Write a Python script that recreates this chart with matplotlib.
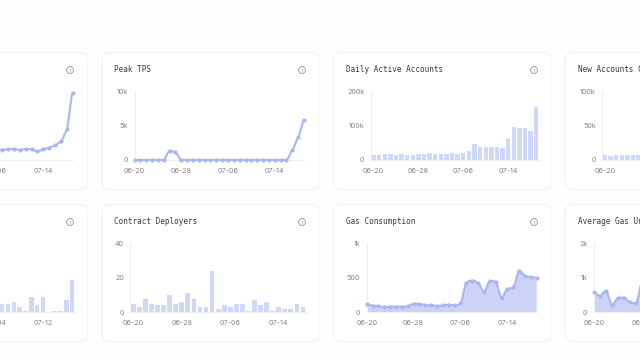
import matplotlib
matplotlib.use('Agg')
import matplotlib.pyplot as plt
from matplotlib.patches import FancyBboxPatch, PathPatch, Circle
from matplotlib.path import Path
import numpy as np

plt.rcParams['font.family'] = ['Inter', 'DejaVu Sans']

W, H = 640, 360
BAR_C = '#d1d7f8'
LINE_C = '#aab6ef'
AREA_C = '#cdd3f7'
AXIS_C = '#eeeef0'
TICK_C = '#858585'
TITLE_C = '#3a3a3a'

# data
# top row
tps_left_x = list(range(16, 30))
tps_left = [1500, 1450, 1590, 1590, 1450, 1590, 1590, 1250, 1550, 1790, 2130, 2700, 4440, 9760]
peak_tps = [0, 0, 0, 0, 0, 0, 1350, 1110, 0, 0, 0, 0, 0, 0, 0, 0, 0, 0, 0, 0, 0, 0, 0, 0, 0, 0, 0,
            1400, 3280, 5850]
active = [14500, 14500, 16400, 16400, 14500, 17400, 15500, 15500, 16400, 16400, 20300, 17400, 16400,
          16400, 19300, 18400, 21300, 26000, 46400, 36700, 37700, 37700, 37700, 34800, 61800, 95700,
          91800, 91800, 85000, 154600]
new_accounts = [7700, 6300, 6800, 7700, 6800, 6800, 7700]

# bottom row
left_bars_x = list(range(17, 30))
left_bars = [5, 5, 6, 3, 1, 9, 4, 9, 0, 1, 1, 7, 19]
deployers = [5, 3, 8, 5, 4, 4, 10, 5, 6, 11, 8, 3, 3, 24, 2, 4, 3, 5, 5, 1, 7, 4, 6, 1, 3, 2, 2, 5, 3]
gas = [116, 97, 92, 72, 82, 82, 82, 87, 125, 120, 106, 101, 92, 101, 111, 101, 130, 425, 459, 425,
       300, 454, 444, 213, 338, 362, 604, 527, 512, 498]
avg_gas = [580, 473, 628, 213, 415, 425, 290, 260, 900]

dates_a = ['06-20', '06-28', '07-06', '07-14']
dates_b = ['06-18', '06-26', '07-04', '07-12']
tick_idx = [0, 8, 16, 24]


def smooth_verts(x, y, k=0.55):
    x = np.asarray(x, float)
    y = np.asarray(y, float)
    m = np.gradient(y, x) * k
    verts = [(x[0], y[0])]
    for i in range(len(x) - 1):
        d = (x[i + 1] - x[i]) / 3
        lo, hi = min(y[i], y[i + 1]), max(y[i], y[i + 1])
        verts.append((x[i] + d, np.clip(y[i] + m[i] * d, lo, hi)))
        verts.append((x[i + 1] - d, np.clip(y[i + 1] - m[i + 1] * d, lo, hi)))
        verts.append((x[i + 1], y[i + 1]))
    return verts


def make_axes(left, top, width, height, ymax, ylabels, xlim, xlabels):
    ax = fig.add_axes([left / W, 1 - (top + height) / H, width / W, height / H])
    ax.patch.set_visible(False)
    ax.set_xlim(*xlim)
    ax.set_ylim(0, ymax)
    ax.spines['top'].set_visible(False)
    ax.spines['right'].set_visible(False)
    ax.spines['left'].set_color(AXIS_C)
    ax.spines['bottom'].set_color(AXIS_C)
    ax.spines['left'].set_linewidth(0.7)
    ax.spines['bottom'].set_linewidth(0.7)
    ax.set_yticks([0, ymax / 2, ymax])
    ax.set_yticklabels(ylabels)
    ax.set_xticks(tick_idx)
    ax.set_xticklabels(xlabels)
    ax.tick_params(axis='both', length=0, labelsize=5.2, labelcolor=TICK_C)
    ax.tick_params(axis='y', pad=4.6)
    ax.tick_params(axis='x', pad=5.8)
    return ax


def line_chart(ax, x, y, area=False):
    verts = smooth_verts(x, y)
    codes = [Path.MOVETO] + [Path.CURVE4] * (len(verts) - 1)
    if area:
        fill_v = verts + [(x[-1], 0), (x[0], 0), (x[0], 0)]
        fill_c = codes + [Path.LINETO, Path.LINETO, Path.CLOSEPOLY]
        ax.add_patch(PathPatch(Path(fill_v, fill_c), facecolor=AREA_C, edgecolor='none', zorder=2))
    ax.add_patch(PathPatch(Path(verts, codes), facecolor='none', edgecolor=LINE_C, lw=1.5,
                           zorder=3, clip_on=False))
    ax.plot(x, y, ls='none', marker='o', ms=3.0, color=LINE_C, mew=0, zorder=4, clip_on=False)


def bar_chart(ax, x, y):
    ax.bar(x, y, width=0.78, color=BAR_C, zorder=2)


fig = plt.figure(figsize=(W / 100, H / 100), dpi=100, facecolor='#fefefe')
bg = fig.add_axes([0, 0, 1, 1])
bg.set_xlim(0, W)
bg.set_ylim(H, 0)
bg.axis('off')

# cards
for x0, x1 in [(-140, 87.5), (102, 319), (333.5, 551), (565, 790)]:
    for y0, y1 in [(52.5, 189.5), (204.5, 341.5)]:
        bg.add_patch(FancyBboxPatch((x0 + 8, y0 + 8), x1 - x0 - 16, y1 - y0 - 16,
                                    boxstyle='round,pad=8,rounding_size=8', fc='white',
                                    ec='#f4f4f6', lw=0.9))

# titles
for x, y, t in [(114, 70, 'Peak TPS'), (345.5, 70, 'Daily Active Accounts'),
                (577.5, 70, 'New Accounts Created'), (114, 222, 'Contract Deployers'),
                (345.5, 222, 'Gas Consumption'), (577.5, 222, 'Average Gas Units')]:
    bg.text(x, y, t, fontsize=5.5, family='DejaVu Sans Mono', color=TITLE_C, va='center', ha='left')

# info icons
for x in [70, 302, 534]:
    for y in [70, 222]:
        bg.add_patch(Circle((x, y), 3.4, fc='white', ec='#8f8f8f', lw=0.6))
        bg.text(x, y, 'i', fontsize=4, color='#8f8f8f', ha='center', va='center')

# top row
ax = make_axes(-97, 91, 169.5, 69, 10000, ['0', '5k', '10k'], (0, 29), dates_a)
line_chart(ax, tps_left_x, tps_left)

ax = make_axes(134.5, 91, 169.5, 69, 10000, ['0', '5k', '10k'], (0, 29), dates_a)
line_chart(ax, list(range(len(peak_tps))), peak_tps)

ax = make_axes(370.7, 91, 168.3, 69, 200000, ['0', '100k', '200k'], (-0.5, 29.5), dates_a)
bar_chart(ax, list(range(len(active))), active)

ax = make_axes(602.2, 91, 168, 69, 100000, ['0', '50k', '100k'], (-0.5, 29.5), dates_a)
bar_chart(ax, list(range(len(new_accounts))), new_accounts)

# bottom row
ax = make_axes(-99.9, 243.3, 174.9, 69, 40, ['0', '20', '40'], (-0.5, 29.5), dates_b)
bar_chart(ax, left_bars_x, left_bars)

ax = make_axes(130.3, 243.3, 175.7, 69, 40, ['0', '20', '40'], (-0.5, 28.5), dates_a)
bar_chart(ax, list(range(len(deployers))), deployers)

ax = make_axes(366.7, 243.3, 170, 69, 1000, ['0', '500', '1k'], (0, 29), dates_a)
line_chart(ax, list(range(len(gas))), gas, area=True)

ax = make_axes(594, 243.3, 174, 69, 2000, ['0', '1k', '2k'], (0, 29), dates_a)
line_chart(ax, list(range(len(avg_gas))), avg_gas, area=True)

fig.savefig('out.png', dpi=100, facecolor=fig.get_facecolor())
